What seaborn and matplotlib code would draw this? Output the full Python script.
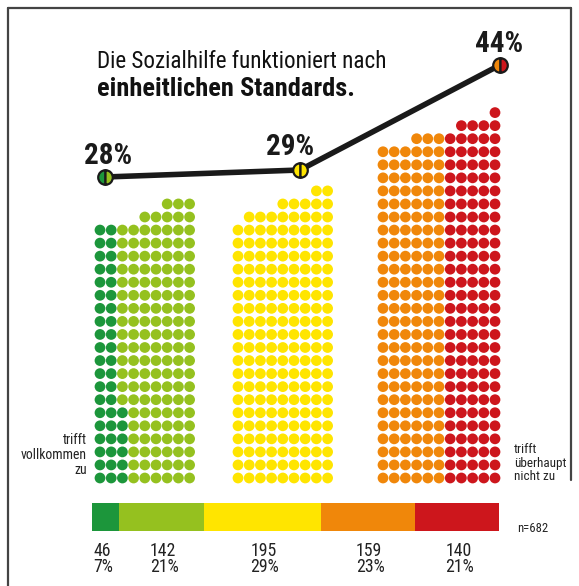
import os
import numpy as np
import pandas as pd
import matplotlib
matplotlib.use("Agg")
import matplotlib.pyplot as plt
from matplotlib import font_manager as fm
import seaborn as sns

# ---------------- data ----------------
categories = ["trifft vollkommen zu", "trifft eher zu", "teils/teils",
              "trifft eher nicht zu", "trifft überhaupt nicht zu"]
counts = [46, 142, 195, 159, 140]
shares = [7, 21, 29, 23, 21]
n_total = 682
group_of_category = [0, 0, 1, 2, 2]
group_values = [28, 29, 44]
group_labels = ["28%", "29%", "44%"]
colors = ["#1c963b", "#95c11f", "#ffe500", "#f0870a", "#cd161c"]
title_1 = "Die Sozialhilfe funktioniert nach"
title_2 = "einheitlichen Standards."
left_label = "trifft\nvollkommen\nzu"
right_label = "trifft\nüberhaupt\nnicht zu"

# ---------------- layout ----------------
W, H = 579, 586
group_cols = [[20, 20, 20, 20, 21, 21, 22, 22, 22],
              [20, 21, 21, 21, 22, 22, 22, 23, 23],
              [26, 26, 26, 27, 27, 27, 27, 28, 28, 28, 29]]
group_x0 = [100, 238, 383]
pitch_x, pitch_y, base_y = 11.2, 13.05, 478
line_x = [105, 300, 500]
label_dx = [3, -10, -1]
label_dy = [-21, -23, -21]

sns.set_theme(style="white")
plt.rcParams["font.family"] = ["DejaVu Sans"]


def find_font(patterns):
    files = [f.fname for f in fm.fontManager.ttflist]
    for p in patterns:
        for f in files:
            if p.lower() in os.path.basename(f).lower():
                return fm.FontProperties(fname=f)
    return None


REG = find_font(["LiberationSansNarrow-Regular", "RobotoCondensed-Regular",
                 "NotoSans-Condensed.", "NotoSans-CondensedMedium",
                 "DejaVuSansCondensed.ttf", "OpenSans_Condensed-Regular",
                 "OpenSansCondensed-Regular"]) or fm.FontProperties(family="DejaVu Sans")
BOLD = find_font(["LiberationSansNarrow-Bold.", "RobotoCondensed-Bold.",
                  "NotoSans-CondensedBold.", "DejaVuSansCondensed-Bold.",
                  "OpenSans_Condensed-Bold.", "OpenSansCondensed-Bold."]) or \
    fm.FontProperties(family="DejaVu Sans", weight="bold")

# build dot table
rows = []
for g, cols in enumerate(group_cols):
    cats = [i for i, gg in enumerate(group_of_category) if gg == g]
    seq = []
    for i in cats:
        seq += [i] * counts[i]
    assert sum(cols) == len(seq)
    k = 0
    for ci, h in enumerate(cols):
        for r in range(h):
            rows.append({"x": group_x0[g] + ci * pitch_x,
                         "y": base_y - r * pitch_y,
                         "cat": categories[seq[k]]})
            k += 1
df = pd.DataFrame(rows)

fig = plt.figure(figsize=(W / 100, H / 100), dpi=100)
ax = fig.add_axes([0, 0, 1, 1])
ax.set_xlim(0, W)
ax.set_ylim(H, 0)
ax.axis("off")
renderer = fig.canvas.get_renderer()


def fit_text(x, y, s, target_w, fp, measure=None, **kw):
    """Draw text and scale its font size so that `measure` spans target_w px."""
    fp = fp.copy()
    fp.set_size(12)
    probe = ax.text(0, 0, measure or s, fontproperties=fp)
    w = probe.get_window_extent(renderer).width
    probe.remove()
    fp.set_size(12 * target_w / w)
    return ax.text(x, y, s, fontproperties=fp, **kw)


sns.scatterplot(data=df, x="x", y="y", hue="cat", hue_order=categories,
                palette=colors, s=60, linewidth=0, legend=False, ax=ax)


def pct_to_y(p):
    return 373 - 7.0 * p


ly = [pct_to_y(v) for v in group_values]
sns.lineplot(x=line_x, y=ly, color="#1a1a1a", linewidth=4, ax=ax,
             sort=False, zorder=4)
marker_cols = [(colors[0], colors[1]), (colors[2], colors[2]), (colors[3], colors[4])]
for x, y, (c1, c2), lab, dx, dy in zip(line_x, ly, marker_cols, group_labels,
                                       label_dx, label_dy):
    ax.plot([x], [y], marker="o", markersize=10.5, fillstyle="left",
            markerfacecolor=c1, markerfacecoloralt=c2,
            markeredgecolor="#1a1a1a", markeredgewidth=1.6, zorder=5)
    fit_text(x + dx, y + dy, lab, 48, BOLD, ha="center", va="center",
             color="#1a1a1a")

# title
fit_text(97, 68, title_1, 290, REG, color="#111111", va="baseline")
fit_text(97, 96, title_2, 258, BOLD, color="#111111", va="baseline")

# side labels
fit_text(87, 455, left_label, 66, REG, measure="vollkommen", ha="right",
         va="center", color="#222222", linespacing=1.05)
fit_text(514, 463, right_label, 52, REG, measure="überhaupt", ha="left",
         va="center", color="#222222", linespacing=1.05)

# stacked bar
bar_x0, bar_x1, bar_y, bar_h = 92, 499, 517, 28
scale = (bar_x1 - bar_x0) / n_total
widths = np.array(counts) * scale
lefts = bar_x0 + np.concatenate([[0], np.cumsum(widths)[:-1]])
ax.barh([bar_y] * len(counts), widths, left=lefts,
        height=bar_h, color=colors, linewidth=0)
fit_text(517, 529, f"n={n_total}", 31, REG, color="#222222", va="center")
for i, (lx, wd, c, s) in enumerate(zip(lefts, widths, counts, shares)):
    xpos = lx + 1 if i == 0 else lx + wd / 2 - 12
    fit_text(xpos, 559, f"{c}\n{s}%", 26, REG, measure="142",
             color="#222222", va="center", ha="left", linespacing=0.92)

# frame
ax.plot([8, 8], [8, H], color="#444444", lw=1.6)
ax.plot([8, 571], [8, 8], color="#444444", lw=1.6)
ax.plot([571, 571], [8, 480], color="#444444", lw=1.6)

fig.savefig("out.png", dpi=100)
